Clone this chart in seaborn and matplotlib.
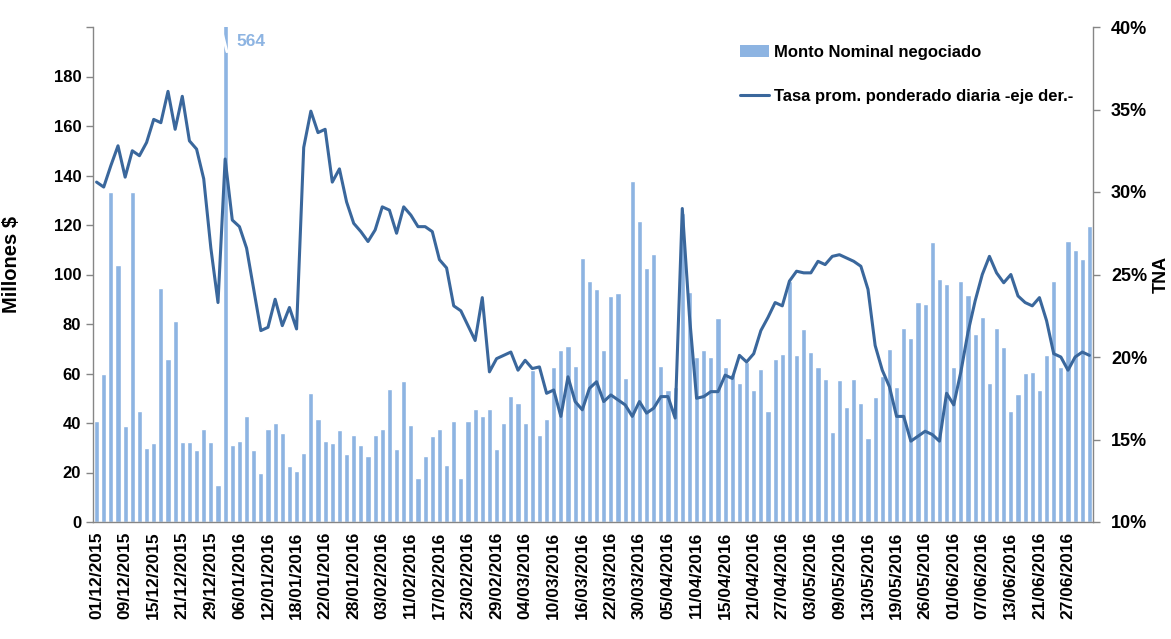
import numpy as np
import pandas as pd
import matplotlib
matplotlib.use('Agg')
import matplotlib.pyplot as plt
import seaborn as sns
from matplotlib.patches import Patch
from matplotlib.lines import Line2D

# daily traded amount (millions $), one bar per business day 01/12/2015 - 30/06/2016
montos = [40.7, 59.7, 133.3, 103.8, 38.8, 133.3, 44.7, 30.1, 31.9, 94.7,
          66.0, 81.3, 32.4, 32.4, 28.9, 37.5, 32.4, 15.0, 564.0, 31.3,
          32.9, 42.8, 28.9, 19.7, 37.5, 39.9, 35.8, 22.5, 20.7, 27.8,
          52.1, 41.7, 32.9, 31.9, 37.1, 27.4, 35.1, 31.3, 26.7, 35.1,
          37.5, 53.8, 29.6, 56.8, 39.3, 17.8, 26.7, 34.7, 37.5, 23.2,
          40.7, 17.8, 40.7, 45.6, 42.8, 45.6, 29.6, 40.0, 51.0, 48.2,
          39.9, 61.5, 35.1, 41.7, 62.5, 69.4, 71.3, 63.2, 106.7, 97.2,
          94.0, 69.4, 91.4, 92.6, 58.3, 137.9, 121.8, 102.8, 108.3, 63.2,
          53.4, 54.5, 125.0, 93.0, 66.7, 69.6, 66.7, 82.5, 62.6, 60.0,
          56.3, 64.6, 53.2, 61.8, 44.7, 66.0, 68.0, 97.2, 67.4, 77.8,
          68.5, 62.5, 57.9, 36.5, 57.4, 46.5, 57.9, 48.2, 34.0, 50.4,
          59.0, 69.7, 54.6, 78.5, 74.3, 88.9, 88.2, 113.2, 98.2, 96.3,
          62.5, 97.2, 91.7, 76.0, 82.9, 56.3, 78.5, 70.8, 44.7, 51.7,
          60.4, 60.8, 53.2, 67.4, 97.2, 62.5, 113.6, 109.7, 106.3, 119.4]

# weighted average daily rate (TNA, %)
tasa = [30.6, 30.3, 31.6, 32.8, 30.9, 32.5, 32.2, 33.0, 34.4, 34.2,
        36.1, 33.8, 35.8, 33.1, 32.6, 30.8, 26.6, 23.3, 32.0, 28.3,
        27.9, 26.6, 24.1, 21.6, 21.8, 23.5, 21.9, 23.0, 21.7, 32.7,
        34.9, 33.6, 33.8, 30.6, 31.4, 29.4, 28.1, 27.6, 27.0, 27.7,
        29.1, 28.9, 27.5, 29.1, 28.6, 27.9, 27.9, 27.6, 25.9, 25.4,
        23.1, 22.8, 21.9, 21.0, 23.6, 19.1, 19.9, 20.1, 20.3, 19.2,
        19.8, 19.3, 19.4, 17.8, 18.0, 16.4, 18.8, 17.3, 16.8, 18.1,
        18.5, 17.3, 17.7, 17.4, 17.1, 16.4, 17.3, 16.6, 16.9, 17.6,
        17.6, 16.3, 29.0, 22.5, 17.5, 17.6, 17.9, 17.9, 18.9, 18.7,
        20.1, 19.7, 20.2, 21.6, 22.4, 23.3, 23.1, 24.6, 25.2, 25.1,
        25.1, 25.8, 25.6, 26.1, 26.2, 26.0, 25.8, 25.5, 24.1, 20.7,
        19.2, 18.2, 16.4, 16.4, 14.9, 15.2, 15.5, 15.3, 14.9, 17.8,
        17.1, 19.1, 21.5, 23.4, 25.0, 26.1, 25.1, 24.5, 25.0, 23.7,
        23.3, 23.1, 23.6, 22.2, 20.2, 20.0, 19.2, 20.0, 20.3, 20.1]

# dates shown on the axis (every 4th business day)
fechas = ['01/12/2015', '09/12/2015', '15/12/2015', '21/12/2015', '29/12/2015',
          '06/01/2016', '12/01/2016', '18/01/2016', '22/01/2016', '28/01/2016',
          '03/02/2016', '11/02/2016', '17/02/2016', '23/02/2016', '29/02/2016',
          '04/03/2016', '10/03/2016', '16/03/2016', '22/03/2016', '30/03/2016',
          '05/04/2016', '11/04/2016', '15/04/2016', '21/04/2016', '27/04/2016',
          '03/05/2016', '09/05/2016', '13/05/2016', '19/05/2016', '26/05/2016',
          '01/06/2016', '07/06/2016', '13/06/2016', '21/06/2016', '27/06/2016']

BAR_COLOR = '#8DB4E2'
LINE_COLOR = '#3A679C'
GRAY = '#868686'

n = len(montos)
df = pd.DataFrame({'dia': np.arange(n), 'monto': montos, 'tasa': tasa})

sns.set_style('white')
plt.rcParams['font.family'] = ['Liberation Sans', 'DejaVu Sans']
plt.rcParams['text.color'] = 'black'
plt.rcParams['axes.labelcolor'] = 'black'

fig = plt.figure(figsize=(11.71, 6.39), dpi=100)
ax = fig.add_axes([93 / 1171, 1 - 522 / 639, 1000 / 1171, 495 / 639])

sns.barplot(data=df, x='dia', y='monto', color=BAR_COLOR, saturation=1,
            width=0.72, ax=ax)

ax2 = ax.twinx()
sns.lineplot(data=df, x='dia', y='tasa', color=LINE_COLOR, lw=2.2, ax=ax2)

# axes limits
ax.set_xlim(-0.5, n - 0.5)
ax2.set_xlim(-0.5, n - 0.5)
ax.set_ylim(0, 200)
ax2.set_ylim(10, 40)

# x ticks: labels every 4 days, small marks between every bar
pos = np.arange(0, 4 * len(fechas), 4)
ax.set_xticks(pos)
ax.set_xticklabels(fechas, rotation=90, fontsize=12.5, fontweight='bold')
ax.set_xticks(np.arange(-0.5, n, 1), minor=True)
ax.tick_params(axis='x', which='major', length=0, pad=7, labelcolor='black')
ax.tick_params(axis='x', which='minor', length=5, color=GRAY, width=1)
ax.set_xlabel('')

yt = np.arange(0, 201, 20)
ax.set_yticks(yt)
ax.set_yticklabels([str(v) if v < 200 else '' for v in yt], fontsize=12, fontweight='bold')
ax.tick_params(axis='y', length=5, color=GRAY, width=1, left=True, labelcolor='black')

yt2 = np.arange(10, 41, 5)
ax2.set_yticks(yt2)
ax2.set_yticklabels([f'{v}%' for v in yt2], fontsize=13, fontweight='bold')
ax2.tick_params(axis='y', length=5, color=GRAY, width=1, right=True, pad=8,
                labelcolor='black')

ax.set_ylabel('Millones $', fontsize=14.5, fontweight='bold')
ax.yaxis.set_label_coords(-0.072, 0.52)
ax2.set_ylabel('TNA', fontsize=13, fontweight='bold')
ax2.yaxis.set_label_coords(1.06, 0.5)

for a in (ax, ax2):
    a.spines['top'].set_visible(False)
    for s in ('left', 'right', 'bottom'):
        a.spines[s].set_color(GRAY)
        a.spines[s].set_linewidth(1)
ax.spines['right'].set_visible(False)
ax2.spines['left'].set_visible(False)
ax2.spines['bottom'].set_visible(False)

# outlier bar: break mark and value label
imax = int(np.argmax(montos))
ax.plot([imax - 0.35, imax + 0.25], [197, 190], color='white', lw=2, clip_on=False)
ax.text(imax + 1.6, 194, f'{montos[imax]:.0f}', color=BAR_COLOR, fontsize=12.5,
        fontweight='bold', va='center', ha='left')

handles = [Patch(facecolor=BAR_COLOR, edgecolor='none'),
           Line2D([0], [0], color=LINE_COLOR, lw=2.2)]
labels = ['Monto Nominal negociado', 'Tasa prom. ponderado diaria -eje der.-']
fig.legend(handles, labels, loc='upper left', bbox_to_anchor=(725 / 1171, 1 - 30 / 639),
           frameon=False, prop={'size': 12, 'weight': 'bold'}, handlelength=1.75,
           handletextpad=0.3, labelspacing=1.75)

fig.savefig('out.png', dpi=100)
